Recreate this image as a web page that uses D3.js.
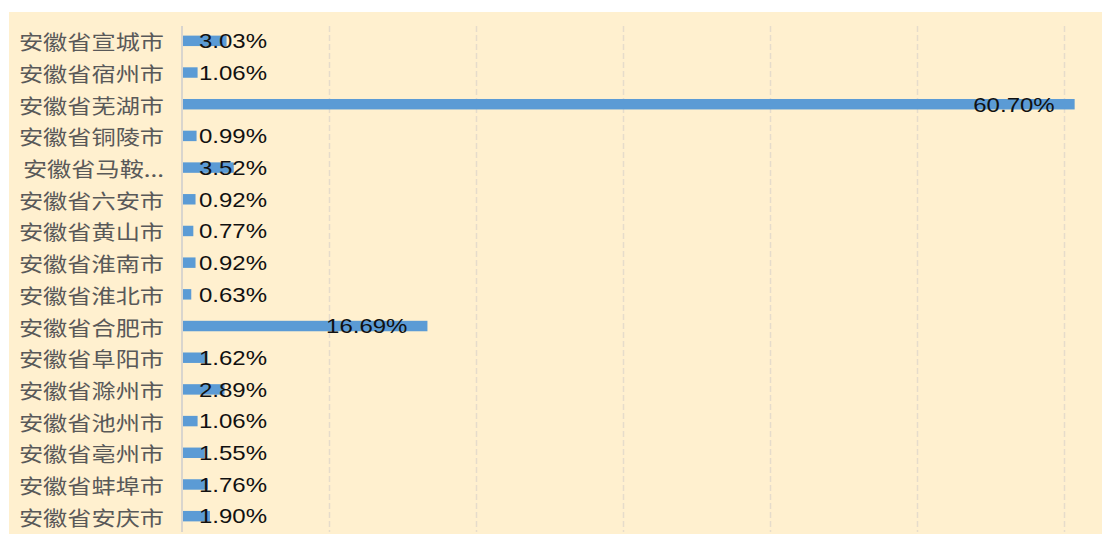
<!DOCTYPE html>
<html><head><meta charset="utf-8">
<script src="https://cdn.jsdelivr.net/npm/d3@7"></script>
<style>html,body{margin:0;padding:0;background:#fff;}svg{display:block;}</style>
</head><body>
<svg id="c" width="1102" height="534"></svg>
<script>
const categories = ["安徽省宣城市","安徽省宿州市","安徽省芜湖市","安徽省铜陵市","安徽省马鞍...","安徽省六安市","安徽省黄山市","安徽省淮南市","安徽省淮北市","安徽省合肥市","安徽省阜阳市","安徽省滁州市","安徽省池州市","安徽省亳州市","安徽省蚌埠市","安徽省安庆市"];
const values = [3.03,1.06,60.70,0.99,3.52,0.92,0.77,0.92,0.63,16.69,1.62,2.89,1.06,1.55,1.76,1.90];
const gridTicks = [10,20,30,40,50,60];

const svg = d3.select("#c");
svg.append("rect").attr("x",9).attr("y",12).attr("width",1093).attr("height",522).attr("fill","#FFF0CF");

const x = d3.scaleLinear().domain([0,61.2]).range([182,1082]);
const y = d3.scaleBand().domain(categories).range([25,532]).paddingInner(0.67).paddingOuter(0.335);

// gridlines
svg.append("g").selectAll("line").data(gridTicks).join("line")
  .attr("x1",d=>Math.round(x(d))+0.5).attr("x2",d=>Math.round(x(d))+0.5)
  .attr("y1",26).attr("y2",532)
  .attr("stroke","#E6DCCB").attr("stroke-width",1.5).attr("stroke-dasharray","6,3");

// bars
svg.append("g").selectAll("rect").data(values).join("rect")
  .attr("x",x(0)).attr("y",(d,i)=>y(categories[i]))
  .attr("width",d=>x(d)-x(0)).attr("height",y.bandwidth())
  .attr("fill","#5B9BD5");

// axis line
svg.append("line").attr("x1",182).attr("x2",182).attr("y1",26).attr("y2",532)
  .attr("stroke","#D9D5CE").attr("stroke-width",2);

// category labels
const csx = 1.21;
svg.append("g").selectAll("text").data(categories).join("text")
  .attr("transform",d=>`translate(164,${y(d)+y.bandwidth()/2+0.5}) scale(${csx},1)`)
  .attr("text-anchor","end").attr("dominant-baseline","central")
  .attr("font-family","'Noto Sans CJK SC', sans-serif").attr("font-size",20)
  .attr("fill","#595959").text(d=>d);

// value labels
const sx = 1.2;
const vl = svg.append("g").selectAll("text").data(values).join("text")
  .attr("dominant-baseline","central")
  .attr("font-family","'Liberation Sans', Arial, sans-serif").attr("font-size",20)
  .attr("fill","#111").text(d=>d.toFixed(2)+"%");
vl.each(function(d,i){
  const t = d3.select(this);
  const w = this.getComputedTextLength()*sx;
  const end = x(d)-20;
  const cy = y(categories[i])+y.bandwidth()/2+0.5;
  if(end - w >= 199){
    t.attr("text-anchor","end").attr("transform",`translate(${end},${cy}) scale(${sx},1)`);
  } else {
    t.attr("text-anchor","start").attr("transform",`translate(199,${cy}) scale(${sx},1)`);
  }
});
</script>
</body></html>
